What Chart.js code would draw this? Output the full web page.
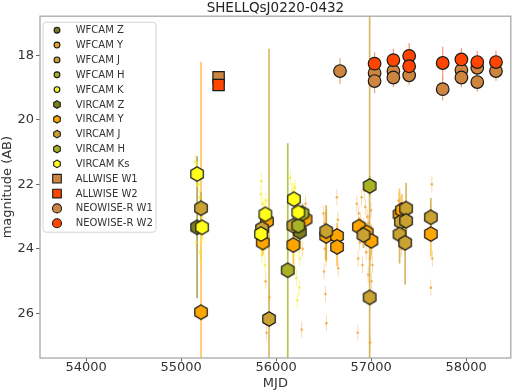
<!DOCTYPE html>
<html><head><meta charset="utf-8">
<script src="https://cdn.jsdelivr.net/npm/chart.js@4.4.0/dist/chart.umd.min.js"></script>
<style>html,body{margin:0;padding:0;background:#fff}#wrap{width:520px;height:392px}</style>
</head><body><div id="wrap"><canvas id="c" width="520" height="392"></canvas></div>
<script>
// ---------- data ----------
const chartTitle = 'SHELLQsJ0220-0432';
const xTicks = [54000, 55000, 56000, 57000, 58000];
const yTicks = [18, 20, 22, 24, 26];

const vircamZ_mjd = [55169, 56250];
const vircamZ_mag = [23.33, 23.47];
const vircamZ_err = [2.2, 0.5];

const vircamY_mjd = [55210, 55904, 55860, 56310, 56182, 56528, 56642, 56642, 56872, 56954, 57003, 57300, 57325, 57629];
const vircamY_mag = [25.96, 23.14, 23.80, 23.08, 23.88, 23.60, 23.60, 23.94, 23.31, 23.49, 23.75, 22.93, 22.80, 23.54];
const vircamY_err = [7.76, 0.3, 0.4, 0.3, 0.6, 0.8, 0.4, 0.6, 0.3, 0.3, 0.5, 0.8, 0.5, 0.7];

const vircamJ_mjd = [55210, 55926, 55852, 56182, 56528, 56920, 57314, 57369, 57369, 57300, 57359, 57629, 56985];
const vircamJ_mag = [22.74, 26.17, 23.37, 23.28, 23.45, 23.57, 23.16, 22.75, 23.13, 23.55, 23.81, 23.02, 25.50];
const vircamJ_err = [0.5, 8.37, 0.4, 0.4, 0.8, 0.4, 0.6, 0.8, 0.5, 0.9, 1.3, 0.6, 9.0];

const vircamH_mjd = [56123, 56234, 56278, 56985];
const vircamH_mag = [24.66, 23.28, 22.90, 22.05];
const vircamH_err = [3.93, 0.4, 0.3, 0.3];

const vircamKs_mjd = [55169, 55221, 55887, 55842, 56188, 56234];
const vircamKs_mag = [21.68, 23.33, 22.93, 23.54, 22.46, 22.87];
const vircamKs_err = [0.4, 0.5, 0.5, 0.6, 0.5, 0.6];

const allwiseW1_mjd = [55395];
const allwiseW1_mag = [18.68];
const allwiseW2_mjd = [55395];
const allwiseW2_mag = [18.92];

const neoW1_mjd = [56673, 57037, 57037, 57235, 57235, 57401, 57754, 57951, 57951, 58118, 58118, 58315];
const neoW1_mag = [18.49, 18.55, 18.80, 18.49, 18.69, 18.62, 19.05, 18.46, 18.69, 18.39, 18.83, 18.49];
const neoW1_err = [0.4, 0.3, 0.38, 0.3, 0.3, 0.3, 0.35, 0.3, 0.3, 0.3, 0.3, 0.3];

const neoW2_mjd = [57037, 57235, 57401, 57401, 57754, 57951, 58118, 58315];
const neoW2_mag = [18.26, 18.15, 18.02, 18.34, 18.24, 18.13, 18.21, 18.21];
const neoW2_err = [0.35, 0.35, 0.4, 0.3, 0.5, 0.35, 0.35, 0.35];

// single-epoch detections (small dots)
const epochKs_mjd = [55150, 55165, 55185, 55195, 55205, 55215, 55175, 55225, 55160, 55200, 55210,
  55840, 55855, 55870, 55880, 55890, 55860, 55900, 55875, 55850, 55885, 55865, 55895, 55845,
  56150, 56170, 56190, 56205, 56220, 56240, 56180, 56260, 56210, 56230, 56250, 56195, 56215, 56245, 56225, 56235, 56200, 56185, 56255];
const epochKs_mag = [21.3, 21.7, 22.0, 22.4, 22.7, 23.0, 23.2, 23.5, 23.8, 24.1, 24.4,
  22.3, 22.6, 22.8, 23.0, 23.3, 23.5, 23.7, 24.0, 24.2, 24.5, 23.1, 22.5, 21.9,
  21.8, 22.2, 22.5, 22.7, 22.9, 23.1, 23.3, 23.5, 23.7, 24.0, 24.3, 24.6, 24.9, 25.2, 25.6, 23.2, 22.1, 24.2, 23.9];
const epochKs_err = 0.25;

const epochY_mjd = [55890, 55930, 55900, 56270, 56310, 56280,
  56500, 56510, 56520, 56530, 56515, 56525, 56505, 56520, 56530, 56640, 56650, 56645, 56655,
  56850, 56870, 56890, 56900, 56920, 56940, 56960, 56980, 57000, 57010, 56990, 56950, 56880, 56910, 56970, 57005, 56860, 56990,
  56930, 56895, 56975, 57015, 56865,
  57290, 57300, 57310, 57330, 57350, 57370, 57380, 57360, 57320,
  57640, 57630, 57645, 57630];
const epochY_mag = [25.0, 25.5, 26.6, 26.5, 22.6, 24.0,
  22.9, 23.2, 23.4, 23.7, 24.0, 24.3, 24.7, 25.4, 26.3, 22.4, 23.1, 24.1, 24.6,
  22.6, 22.9, 23.1, 22.4, 23.3, 22.7, 23.0, 23.5, 22.8, 23.9, 24.3, 24.1, 23.8, 24.5, 24.8, 25.0, 26.6, 26.9,
  22.2, 23.6, 23.2, 24.5, 24.3,
  22.5, 22.8, 22.6, 23.2, 22.9, 23.4, 23.1, 23.8, 24.0,
  22.0, 22.8, 24.3, 25.2];
const epochY_err = 0.25;

// ---------- helpers ----------
const FONT = 'DejaVu Sans';
function zip(xs, ys, es) { return xs.map((x, i) => ({x: x, y: ys[i], e: Array.isArray(es) ? es[i] : es})); }

function hexPath(ctx, x, y, R) {
  ctx.beginPath();
  for (let k = 0; k < 6; k++) {
    const a = -Math.PI / 2 + k * Math.PI / 3;
    const px = x + R * Math.cos(a), py = y + R * Math.sin(a);
    if (k === 0) ctx.moveTo(px, py); else ctx.lineTo(px, py);
  }
  ctx.closePath();
}
function hexCanvas(fill, R, lw) {
  const s = Math.ceil(2 * R + lw + 2);
  const cv = document.createElement('canvas');
  cv.width = s; cv.height = s;
  const c = cv.getContext('2d');
  hexPath(c, s / 2, s / 2, R);
  c.fillStyle = fill; c.fill();
  c.lineWidth = lw; c.strokeStyle = '#1a1a1a'; c.stroke();
  return cv;
}
function rgba(hex, a) {
  const n = parseInt(hex.slice(1), 16);
  return `rgba(${(n >> 16) & 255},${(n >> 8) & 255},${n & 255},${a})`;
}

const C = {
  wZ: '#7a7a1e', wY: '#f0a020', wJ: '#c9a232', wH: '#a9b124', wK: '#f2f224',
  vZ: '#7d7d1e', vY: '#ffa500', vJ: '#c9a232', vH: '#a9b124', vKs: '#ffff1a',
  aW1: '#cd853f', aW2: '#ff4500', nW1: '#cd853f', nW2: '#ff4500'
};

const HEX_R = 7.2;
function hexDs(label, color, mjd, mag, err, errAlpha) {
  return {label: label, data: zip(mjd, mag, err), pointStyle: hexCanvas(color, HEX_R, 1.2),
    pointRadius: HEX_R, backgroundColor: color, borderColor: '#1a1a1a',
    errColor: rgba(color, errAlpha), errWidth: 1.7,
    legend: {shape: 'hex', color: color}};
}
function emptyDs(label, color) {
  return {label: label, data: [], pointRadius: 0, legend: {shape: 'smallcircle', color: color}};
}

const datasets = [
  {label: 'VIRCAM Ks epochs', data: zip(epochKs_mjd, epochKs_mag, epochKs_err), pointStyle: 'circle', pointRadius: 1.3,
    borderWidth: 0, backgroundColor: 'rgba(245,240,20,0.7)', errColor: 'rgba(245,240,40,0.45)', errWidth: 1},
  {label: 'VIRCAM Y epochs', data: zip(epochY_mjd, epochY_mag, epochY_err), pointStyle: 'circle', pointRadius: 1.3,
    borderWidth: 0, backgroundColor: 'rgba(240,160,40,0.75)', errColor: 'rgba(240,165,60,0.4)', errWidth: 1},
  emptyDs('WFCAM Z', C.wZ), emptyDs('WFCAM Y', C.wY), emptyDs('WFCAM J', C.wJ), emptyDs('WFCAM H', C.wH), emptyDs('WFCAM K', C.wK),
  hexDs('VIRCAM Z', C.vZ, vircamZ_mjd, vircamZ_mag, vircamZ_err, 0.65),
  hexDs('VIRCAM Y', C.vY, vircamY_mjd, vircamY_mag, vircamY_err, 0.62),
  hexDs('VIRCAM J', C.vJ, vircamJ_mjd, vircamJ_mag, vircamJ_err, 0.75),
  hexDs('VIRCAM H', C.vH, vircamH_mjd, vircamH_mag, vircamH_err, 0.8),
  hexDs('VIRCAM Ks', C.vKs, vircamKs_mjd, vircamKs_mag, vircamKs_err, 0.55),
  {label: 'ALLWISE W1', data: zip(allwiseW1_mjd, allwiseW1_mag, 0), pointStyle: 'rect', pointRadius: 8.0, borderWidth: 1.2,
    backgroundColor: C.aW1, borderColor: '#1a1a1a', legend: {shape: 'square', color: C.aW1}},
  {label: 'ALLWISE W2', data: zip(allwiseW2_mjd, allwiseW2_mag, 0), pointStyle: 'rect', pointRadius: 8.0, borderWidth: 1.2,
    backgroundColor: C.aW2, borderColor: '#1a1a1a', legend: {shape: 'square', color: C.aW2}},
  {label: 'NEOWISE-R W1', data: zip(neoW1_mjd, neoW1_mag, neoW1_err), pointStyle: 'circle', pointRadius: 6.3, borderWidth: 1.2,
    backgroundColor: C.nW1, borderColor: '#1a1a1a', errColor: rgba(C.nW1, 0.7), errWidth: 1.2, legend: {shape: 'bigcircle', color: C.nW1}},
  {label: 'NEOWISE-R W2', data: zip(neoW2_mjd, neoW2_mag, neoW2_err), pointStyle: 'circle', pointRadius: 6.3, borderWidth: 1.2,
    backgroundColor: C.nW2, borderColor: '#1a1a1a', errColor: rgba('#ff6040', 0.7), errWidth: 1.2, legend: {shape: 'bigcircle', color: C.nW2}}
];
datasets.forEach((d, i) => { d.order = datasets.length - i; d.showLine = false; d.pointHoverRadius = d.pointRadius; });

// ---------- plugins ----------
const errPlugin = {
  id: 'errbars',
  beforeDatasetsDraw(chart) {
    const ctx = chart.ctx, ca = chart.chartArea, xs = chart.scales.x, ys = chart.scales.y;
    ctx.save();
    ctx.beginPath(); ctx.rect(ca.left, ca.top, ca.right - ca.left, ca.bottom - ca.top); ctx.clip();
    chart.data.datasets.forEach(d => {
      if (!d.errColor) return;
      ctx.strokeStyle = d.errColor; ctx.lineWidth = d.errWidth;
      d.data.forEach(p => {
        if (!p.e) return;
        const px = xs.getPixelForValue(p.x);
        ctx.beginPath();
        ctx.moveTo(px, ys.getPixelForValue(p.y - p.e));
        ctx.lineTo(px, ys.getPixelForValue(p.y + p.e));
        ctx.stroke();
      });
    });
    ctx.restore();
  }
};
const framePlugin = {
  id: 'frame',
  afterDatasetsDraw(chart) {
    const ctx = chart.ctx, ca = chart.chartArea;
    ctx.save();
    ctx.strokeStyle = '#a8a8a8'; ctx.lineWidth = 1.3;
    ctx.strokeRect(ca.left, ca.top, ca.right - ca.left, ca.bottom - ca.top);
    ctx.restore();
  }
};
const legendPlugin = {
  id: 'legendBox',
  afterDraw(chart) {
    const ctx = chart.ctx, ca = chart.chartArea;
    const items = chart.data.datasets.filter(d => d.legend);
    const x0 = ca.left + 3, y0 = ca.top + 6, w = 113, step = 14.85, h = 210;
    ctx.save();
    ctx.beginPath();
    if (ctx.roundRect) ctx.roundRect(x0, y0, w, h, 3); else ctx.rect(x0, y0, w, h);
    ctx.fillStyle = 'rgba(255,255,255,0.85)'; ctx.fill();
    ctx.strokeStyle = '#d4d4d4'; ctx.lineWidth = 1; ctx.stroke();
    ctx.font = '10px "' + FONT + '"';
    ctx.textBaseline = 'middle'; ctx.textAlign = 'left';
    items.forEach((d, i) => {
      const cy = y0 + 8 + i * step, mx = x0 + 14;
      const L = d.legend;
      ctx.lineWidth = 1.1; ctx.strokeStyle = '#1a1a1a'; ctx.fillStyle = L.color;
      if (L.shape === 'smallcircle') { ctx.beginPath(); ctx.arc(mx, cy, 2.9, 0, 2 * Math.PI); ctx.fill(); ctx.stroke(); }
      else if (L.shape === 'hex') { hexPath(ctx, mx, cy, 3.8); ctx.fill(); ctx.stroke(); }
      else if (L.shape === 'square') { ctx.beginPath(); ctx.rect(mx - 4.3, cy - 4.3, 8.6, 8.6); ctx.fill(); ctx.stroke(); }
      else { ctx.beginPath(); ctx.arc(mx, cy, 4.5, 0, 2 * Math.PI); ctx.fill(); ctx.stroke(); }
      ctx.fillStyle = '#333';
      ctx.fillText(d.label, x0 + 32.7, cy + 0.5);
    });
    ctx.restore();
  }
};

// ---------- chart ----------
new Chart(document.getElementById('c'), {
  type: 'scatter',
  data: {datasets: datasets},
  plugins: [errPlugin, framePlugin, legendPlugin],
  options: {
    responsive: false, animation: false, events: [],
    layout: {padding: {left: 0, right: 3, top: 0, bottom: 0}},
    plugins: {
      legend: {display: false}, tooltip: {enabled: false},
      title: {display: true, text: chartTitle, fullSize: false, color: '#222',
        font: {family: FONT, size: 13.5, weight: 'normal', lineHeight: 1.2}, padding: {top: 0, bottom: 0}}
    },
    scales: {
      x: {
        type: 'linear', min: 53515, max: 58471,
        afterBuildTicks: s => { s.ticks = xTicks.map(v => ({value: v})); },
        afterFit: s => { s.height = 34; },
        ticks: {font: {family: FONT, size: 13, lineHeight: 1}, color: '#333', padding: 0, maxRotation: 0, callback: v => String(v)},
        grid: {drawOnChartArea: false, drawTicks: true, tickLength: 3.5, color: '#666', tickWidth: 1},
        border: {display: false},
        title: {display: true, text: 'MJD', color: '#333', font: {family: FONT, size: 13}, padding: {top: 0, bottom: 1}}
      },
      y: {
        type: 'linear', reverse: true, min: 16.79, max: 27.38,
        afterBuildTicks: s => { s.ticks = yTicks.map(v => ({value: v})); },
        afterFit: s => { s.width = 40; },
        ticks: {font: {family: FONT, size: 13}, color: '#333', padding: 2, callback: v => String(v)},
        grid: {drawOnChartArea: false, drawTicks: true, tickLength: 4, color: '#666', tickWidth: 1},
        border: {display: false},
        title: {display: true, text: 'magnitude (AB)', color: '#333', font: {family: FONT, size: 13}, padding: {top: 0, bottom: 0}}
      }
    }
  }
});
</script>
</body></html>
